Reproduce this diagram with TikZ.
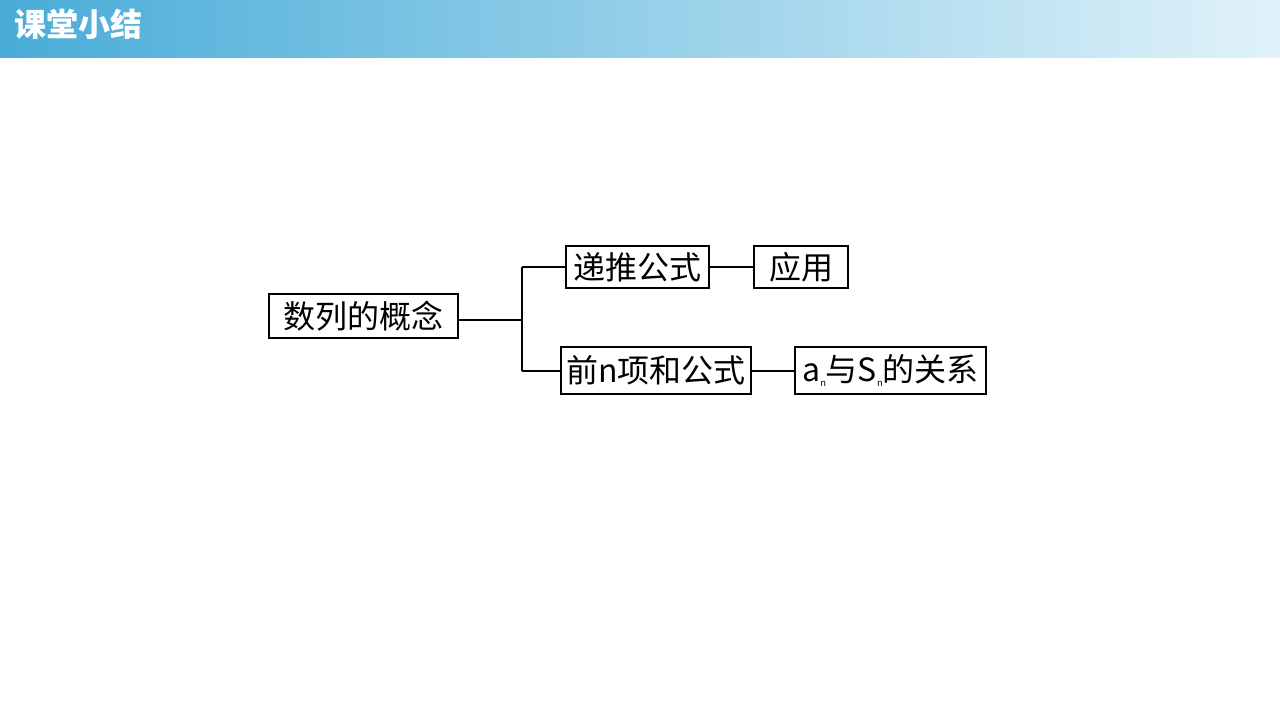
\documentclass[tikz,border=0pt]{standalone}
\usepackage{fontspec}
\newfontfamily\cjk{Noto Sans CJK SC}
\setmainfont{Liberation Serif}
\begin{document}
\begin{tikzpicture}[x=0.75pt,y=-0.75pt,
  bx/.style={draw,line width=1.5pt,inner sep=0pt,font=\cjk\fontsize{24}{28}\selectfont},
  ln/.style={line width=1.5pt}]
\useasboundingbox (0,0) rectangle (1280,720);
\shade[left color={rgb,255:red,72;green,172;blue,216}, right color={rgb,255:red,225;green,242;blue,249}] (0,0) rectangle (1280,58);
\node[anchor=west,text=white,font=\cjk\bfseries\fontsize{24}{28}\selectfont] (title) at (10,24) {课堂小结};
\node[bx,minimum width=189pt*0.75,minimum height=44pt*0.75] (a) at (363.5,316) {数列的概念};
\node[bx,minimum width=143pt*0.75,minimum height=42pt*0.75] (b) at (637.5,267) {递推公式};
\node[bx,minimum width=94pt*0.75,minimum height=42pt*0.75] (c) at (801,267) {应用};
\node[bx,minimum width=190pt*0.75,minimum height=47pt*0.75] (d) at (656,370.5) {前\textit{n}项和公式};
\node[bx,minimum width=191pt*0.75,minimum height=47pt*0.75] (e) at (890.5,370.5) {\textit{a}\raisebox{-0.3ex}{\scriptsize\textit{n}}与\textit{S}\raisebox{-0.3ex}{\scriptsize\textit{n}}的关系};
\coordinate (j) at (522,320);
\draw[ln] (a.east |- j) -- (j);
\draw[ln] (j |- b.west) -- (j |- d.west);
\draw[ln] (j |- b.west) -- (b.west);
\draw[ln] (j |- d.west) -- (d.west);
\draw[ln] (b.east) -- (c.west);
\draw[ln] (d.east) -- (e.west);
\end{tikzpicture}
\end{document}
